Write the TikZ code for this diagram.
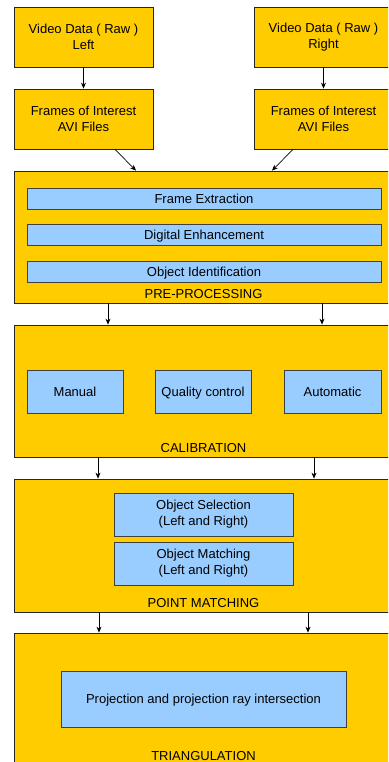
\documentclass[tikz,border=0pt]{standalone}
\usepackage{fontspec}
\setmainfont{Liberation Sans}
\usetikzlibrary{arrows.meta}
\definecolor{ybox}{HTML}{FFCC00}
\definecolor{bbox}{HTML}{99CCFF}
\begin{document}
\begin{tikzpicture}[x=1pt,y=-1pt,
  font=\fontsize{13}{16}\selectfont,
  outerbox/.style={draw=black!85,fill=ybox,line width=0.8pt,inner sep=0pt,align=center},
  innerbox/.style={draw=black!75,fill=bbox,line width=0.8pt,inner sep=0pt,align=center},
  oneline/.style={text height=9.4pt,text depth=0pt},
  lbl/.style={inner sep=0pt,text height=9.4pt,text depth=0pt},
  arr/.style={-{Stealth[length=6pt,width=5pt]},line width=0.7pt}]
\useasboundingbox (0,0) rectangle (388,762);
\clip (0,0) rectangle (388,762);
\fill[white] (0,0) rectangle (388,762);
% top boxes
\node[outerbox,minimum width=139,minimum height=60] (vl) at (83.5,37) {Video Data ( Raw )\\Left};
\node[outerbox,minimum width=139,minimum height=60] (vr) at (323.5,37) {Video Data ( Raw )\\Right};
\node[outerbox,minimum width=139,minimum height=60] (fl) at (83.5,119) {Frames of Interest\\AVI Files};
\node[outerbox,minimum width=139,minimum height=60] (fr) at (323.5,119) {Frames of Interest\\AVI Files};
% pre-processing
\node[outerbox,minimum width=388,minimum height=132] (pre) at (208,237) {};
\node[innerbox,oneline,minimum width=354,minimum height=21] (fe) at (204,198.5) {Frame Extraction};
\node[innerbox,oneline,minimum width=354,minimum height=21] (de) at (204,235) {Digital Enhancement};
\node[innerbox,oneline,minimum width=354,minimum height=21] (oi) at (204,271.5) {Object Identification};
\node[lbl] (prel) at (203.5,294) {PRE-PROCESSING};
% calibration
\node[outerbox,minimum width=388,minimum height=132] (cal) at (208,391) {};
\node[innerbox,oneline,minimum width=96,minimum height=43] (man) at (75,391.5) {Manual};
\node[innerbox,oneline,minimum width=96,minimum height=43] (qc) at (203,391.5) {Quality control};
\node[innerbox,oneline,minimum width=97,minimum height=43] (aut) at (332.5,391.5) {Automatic};
\node[lbl] (call) at (203.5,448) {CALIBRATION};
% point matching
\node[outerbox,minimum width=388,minimum height=133] (pm) at (208,545.5) {};
\node[innerbox,minimum width=179,minimum height=43] (os) at (203.5,514.5) {Object Selection\\ (Left and Right)};
\node[innerbox,minimum width=179,minimum height=43] (om) at (203.5,563.5) {Object Matching\\ (Left and Right)};
\node[lbl] (pml) at (203.5,602.5) {POINT MATCHING};
% triangulation
\node[outerbox,minimum width=388,minimum height=147] (tri) at (208,706.5) {};
\node[innerbox,oneline,minimum width=285,minimum height=56] (proj) at (203.5,699) {Projection and projection ray intersection};
\node[lbl] (tril) at (203.5,755.5) {TRIANGULATION};
% connectors
\draw[arr] (vl.south) -- (fl.north);
\draw[arr] (vr.south) -- (fr.north);
\draw[arr] ([xshift=31.5]fl.south) -- ([xshift=-72]pre.north);
\draw[arr] ([xshift=-30.5]fr.south) -- ([xshift=64]pre.north);
\draw[arr] ([xshift=-100]pre.south) -- ([xshift=-100]cal.north);
\draw[arr] ([xshift=114]pre.south) -- ([xshift=114]cal.north);
\draw[arr] ([xshift=-110]cal.south) -- ([xshift=-110]pm.north);
\draw[arr] ([xshift=106]cal.south) -- ([xshift=106]pm.north);
\draw[arr] ([xshift=-109]pm.south) -- ([xshift=-109]tri.north);
\draw[arr] ([xshift=100]pm.south) -- ([xshift=100]tri.north);
\end{tikzpicture}
\end{document}
